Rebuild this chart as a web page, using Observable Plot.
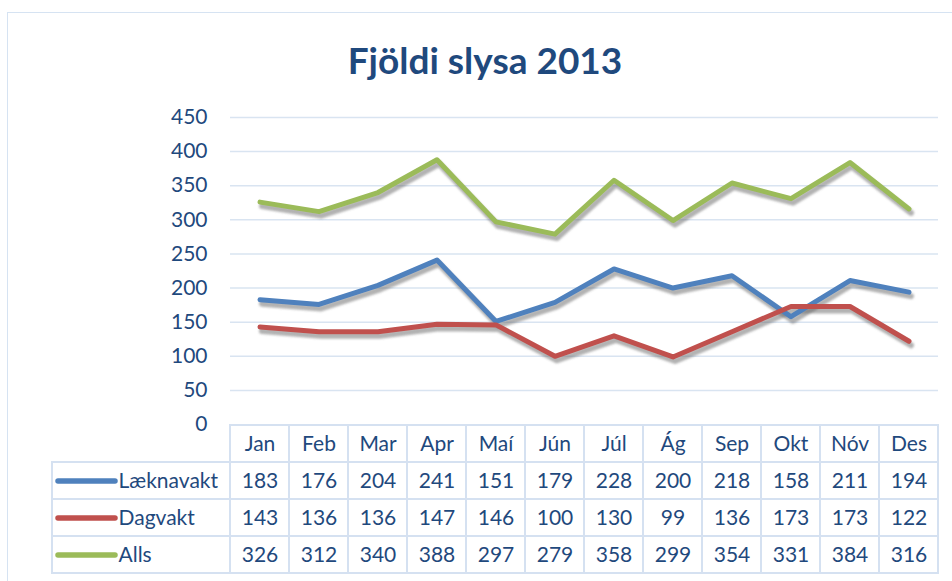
<!DOCTYPE html>
<html><head><meta charset="utf-8">
<script src="https://cdn.jsdelivr.net/npm/d3@7"></script>
<script src="https://cdn.jsdelivr.net/npm/@observablehq/plot@0.6"></script>
<style>
body{margin:0;background:#fff;}
#wrap{position:relative;width:952px;height:581px;overflow:hidden;background:#fff;font-family:Lato,sans-serif;}
#frame{position:absolute;left:7px;top:12px;width:1000px;height:700px;border:1.5px solid #D6E3F2;}
#title{position:absolute;left:0;top:37px;width:970px;text-align:center;font:bold 37px Lato,sans-serif;color:#1F497D;}
.p{position:absolute;left:0;}
</style></head><body>
<div id="wrap"><div id="frame"></div><div id="title">Fjöldi slysa 2013</div></div>
<script>
const months = ["Jan","Feb","Mar","Apr","Maí","Jún","Júl","Ág","Sep","Okt","Nóv","Des"];
const series = ["Læknavakt","Dagvakt","Alls"];
const laeknavakt = [183,176,204,241,151,179,228,200,218,158,211,194];
const dagvakt = [143,136,136,147,146,100,130,99,136,173,173,122];
const alls = [326,312,340,388,297,279,358,299,354,331,384,316];
const colors = ["#4F81BD","#C0504D","#9BBB59"];
const yTicks = [0,50,100,150,200,250,300,350,400,450];

const values = [laeknavakt, dagvakt, alls];
const long = series.flatMap((s, k) => months.map((m, i) => ({series: s, month: m, i, value: values[k][i]})));
const textColor = "#1F497D";
const gridColor = "#D9E4F1";
const font = "Lato, sans-serif";

const wrap = document.getElementById("wrap");

const chart = Plot.plot({
  width: 952, height: 440,
  marginTop: 117, marginBottom: 16, marginLeft: 230, marginRight: 14,
  style: {fontFamily: font, fontSize: "21px", color: textColor, background: "transparent", overflow: "visible"},
  x: {type: "band", domain: months, padding: 0, axis: null},
  y: {domain: [0, 450], label: null},
  color: {domain: series, range: colors},
  marks: [
    Plot.ruleY(yTicks.filter(d => d > 0), {stroke: gridColor, strokeWidth: 1.5}),
    Plot.axisY({ticks: yTicks, tickSize: 0, tickPadding: 23, label: null, fontSize: 21}),
    Plot.line(long, {x: "month", y: "value", z: "series", stroke: "#666", strokeOpacity: 0.5, strokeWidth: 6, dx: 2, dy: 4}),
    Plot.line(long, {x: "month", y: "value", z: "series", stroke: "series", strokeWidth: 5})
  ]
});
chart.classList.add("p");
chart.style.top = "0px";
wrap.appendChild(chart);

// soft blur for the shadow copy (first line mark)
const svg = d3.select(chart);
svg.append("defs").append("filter").attr("id", "sh").attr("x", "-5%").attr("y", "-20%").attr("width", "110%").attr("height", "140%")
  .append("feGaussianBlur").attr("stdDeviation", 1.3);
const lineGroups = chart.querySelectorAll('g[aria-label="line"]');
if (lineGroups.length) lineGroups[0].setAttribute("filter", "url(#sh)");

const colW = (938 - 230) / 12;
const legendStart = -(230 - 52) / colW;
const rows = ["", ...series];
const border = "#D5E1F1";

const table = Plot.plot({
  width: 952, height: 158,
  marginTop: 0, marginBottom: 7, marginLeft: 52, marginRight: 14,
  style: {fontFamily: font, fontSize: "21px", color: textColor, background: "transparent", overflow: "visible"},
  x: {domain: [legendStart, 12], axis: null},
  y: {type: "band", domain: rows, padding: 0, axis: null},
  marks: [
    Plot.barX(months, {x1: (d, i) => i, x2: (d, i) => i + 1, y: () => "", fill: "white", stroke: border, strokeWidth: 2, inset: 0}),
    Plot.barX(long, {x1: "i", x2: d => d.i + 1, y: "series", fill: "white", stroke: border, strokeWidth: 2, inset: 0}),
    Plot.barX(series, {x1: legendStart, x2: 0, y: d => d, fill: "white", stroke: border, strokeWidth: 2, inset: 0}),
    Plot.text(months, {x: (d, i) => i + 0.5, y: () => "", text: d => d, fill: textColor, fontSize: 21}),
    Plot.text(long, {x: d => d.i + 0.5, y: "series", text: "value", fill: textColor, fontSize: 21}),
    Plot.ruleY(series, {y: d => d, x1: legendStart + 6 / colW, x2: legendStart + 63 / colW, stroke: (d, i) => colors[i], strokeWidth: 5.5, strokeLinecap: "round"}),
    Plot.text(series, {x: legendStart + 66 / colW, y: d => d, text: d => d, textAnchor: "start", fill: textColor, fontSize: 21})
  ]
});
table.classList.add("p");
table.style.top = "423px";
wrap.appendChild(table);
</script>
</body></html>
